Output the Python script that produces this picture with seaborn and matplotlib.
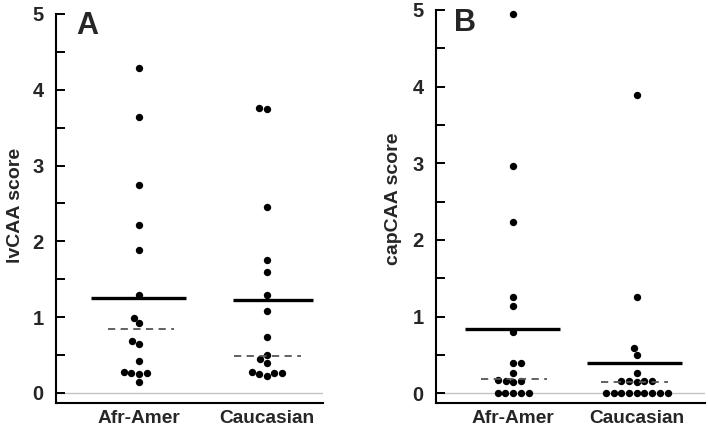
import matplotlib
matplotlib.use("Agg")
import matplotlib.pyplot as plt
import seaborn as sns
import pandas as pd
from matplotlib.ticker import MultipleLocator

# ---- data ----
groups = ["Afr-Amer", "Caucasian"]

lv_afr = [4.29, 3.64, 2.74, 2.21, 1.88, 1.29, 0.99, 0.92, 0.68, 0.65, 0.42,
          0.28, 0.27, 0.26, 0.25, 0.15]
lv_cau = [3.76, 3.74, 2.45, 1.76, 1.60, 1.29, 1.08, 0.74, 0.50, 0.45, 0.40,
          0.28, 0.27, 0.26, 0.25, 0.23]
cap_afr = [4.95, 2.97, 2.24, 1.26, 1.14, 0.80, 0.40, 0.40, 0.26, 0.17, 0.16,
           0.16, 0.15, 0, 0, 0, 0, 0]
cap_cau = [3.89, 1.26, 0.59, 0.50, 0.26, 0.16, 0.16, 0.16, 0.16, 0.15,
           0, 0, 0, 0, 0, 0, 0, 0, 0]

lv_mean = [1.25, 1.23]
lv_median = [0.84, 0.49]
cap_mean = [0.84, 0.40]
cap_median = [0.19, 0.15]

y_ticks = [0, 1, 2, 3, 4, 5]
ylabels = ["lvCAA score", "capCAA score"]
panel_letters = ["A", "B"]

# ---- build tables ----
df_a = pd.DataFrame({"group": [groups[0]] * len(lv_afr) + [groups[1]] * len(lv_cau),
                     "score": lv_afr + lv_cau})
df_b = pd.DataFrame({"group": [groups[0]] * len(cap_afr) + [groups[1]] * len(cap_cau),
                     "score": cap_afr + cap_cau})

sns.set_style("ticks")
plt.rcParams["font.family"] = ["Liberation Sans", "DejaVu Sans"]
plt.rcParams["font.weight"] = "bold"
plt.rcParams["axes.labelweight"] = "bold"

fig = plt.figure(figsize=(7.08, 4.30), dpi=100)
ax_a = fig.add_axes([0.0791, 0.0628, 0.3771, 0.9047])
ax_b = fig.add_axes([0.6158, 0.0628, 0.3800, 0.9140])

configs = [
    (ax_a, df_a, lv_mean, lv_median, ylabels[0], panel_letters[0],
     (-0.649, 1.438), (-0.132, 5.0),
     [(-0.375, 0.367), (-0.266, 0.36)], [(-0.24, 0.27), (-0.26, 0.27)],
     (-0.12, 0.509), (0.116, 0.969)),
    (ax_b, df_b, cap_mean, cap_median, ylabels[1], panel_letters[1],
     (-0.625, 1.553), (-0.126, 5.0),
     [(-0.39, 0.38), (-0.40, 0.37)], [(-0.26, 0.27), (-0.29, 0.25)],
     (-0.125, 0.519), (0.108, 0.967)),
]

for (ax, df, means, medians, ylab, letter, xlim, ylim,
     mean_ext, med_ext, ylab_pos, letter_pos) in configs:
    ax.axhline(0, color="#c4c4c4", lw=1.0, zorder=0)
    sns.swarmplot(data=df, x="group", y="score", order=groups, ax=ax,
                  color="black", size=5.3, linewidth=0, zorder=3)
    for i in range(len(groups)):
        ax.hlines(means[i], i + mean_ext[i][0], i + mean_ext[i][1],
                  colors="black", lw=2.4, zorder=4)
        ax.hlines(medians[i], i + med_ext[i][0], i + med_ext[i][1],
                  colors="#555555", lw=1.3, linestyles=(0, (4, 3)), zorder=4)
    ax.set_xlim(*xlim)
    ax.set_ylim(*ylim)
    ax.set_yticks(y_ticks)
    ax.set_yticklabels([str(t) for t in y_ticks], fontweight="bold", fontsize=14.5)
    ax.set_xticks(range(len(groups)))
    ax.set_xticklabels(groups, fontweight="bold", fontsize=13.8)
    ax.yaxis.set_minor_locator(MultipleLocator(0.5))
    ax.tick_params(axis="y", which="both", direction="in", length=6.5,
                   width=1.4, pad=9, color="black")
    ax.tick_params(axis="x", length=0, pad=5)
    ax.set_xlabel("")
    ax.set_ylabel(ylab, fontsize=14, fontweight="bold")
    ax.yaxis.set_label_coords(*ylab_pos)
    sns.despine(ax=ax)
    for s in ("left", "bottom"):
        ax.spines[s].set_linewidth(1.5)
        ax.spines[s].set_color("black")
    ax.text(letter_pos[0], letter_pos[1], letter, transform=ax.transAxes,
            fontsize=22, fontweight="bold", ha="center", va="center")

fig.savefig("out.png", dpi=100)
